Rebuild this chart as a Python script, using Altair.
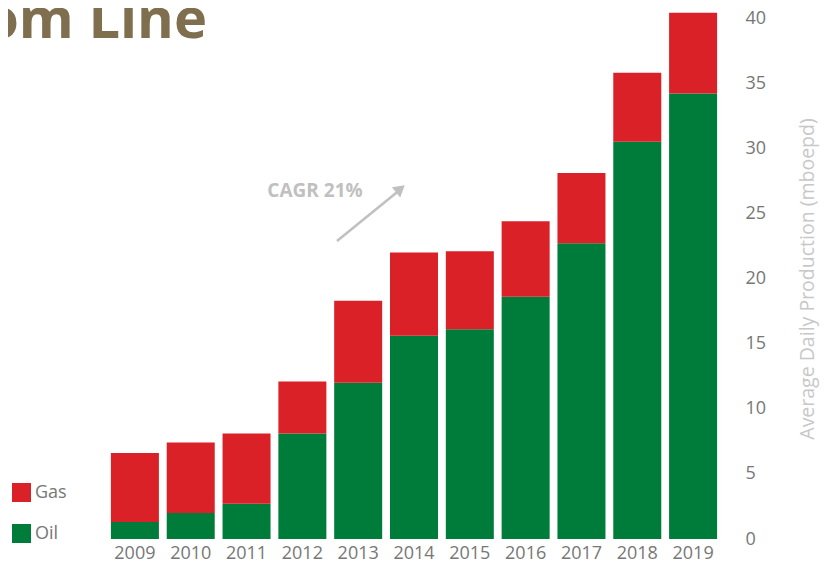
import altair as alt
import pandas as pd

years = ["2009", "2010", "2011", "2012", "2013", "2014", "2015", "2016", "2017", "2018", "2019"]
oil = [1.3, 2.0, 2.7, 8.1, 12.0, 15.6, 16.1, 18.6, 22.7, 30.5, 34.2]
total = [6.6, 7.4, 8.1, 12.1, 18.3, 22.0, 22.1, 24.4, 28.1, 35.8, 40.4]
gas = [round(t - o, 2) for t, o in zip(total, oil)]

series = ["Gas", "Oil"]
colors = ["#da2128", "#007c3a"]

rows = []
for y, o, g in zip(years, oil, gas):
    rows.append({"year": y, "type": "Oil", "value": o, "ord": 0})
    rows.append({"year": y, "type": "Gas", "value": g, "ord": 1})
df = pd.DataFrame(rows)

FONT = "Open Sans"

bars = alt.Chart(df).mark_bar().encode(
    x=alt.X("year:N", sort=years,
            scale=alt.Scale(paddingInner=0.14, paddingOuter=0.07),
            axis=alt.Axis(title=None, labelAngle=0, ticks=False, domain=False,
                          labelColor="#777777", labelFontSize=18, labelFont=FONT,
                          labelPadding=5)),
    y=alt.Y("value:Q", stack="zero",
            scale=alt.Scale(domain=[0, 40], nice=False),
            axis=alt.Axis(orient="right", title="Average Daily Production (mboepd)",
                          values=[0, 5, 10, 15, 20, 25, 30, 35, 40],
                          grid=False, ticks=False, domain=False,
                          labelColor="#777777", labelFontSize=18, labelFont=FONT,
                          labelPadding=24, labelAlign="left",
                          titleColor="#c8c8c8", titleFontSize=19.5, titleFont=FONT,
                          titleFontWeight="normal", titleAngle=270, titlePadding=52)),
    color=alt.Color("type:N", scale=alt.Scale(domain=series, range=colors),
                    legend=alt.Legend(title=None, orient="none", legendX=-95, legendY=465,
                                      symbolType="square", symbolSize=361,
                                      symbolStrokeWidth=0, labelFontSize=18,
                                      labelColor="#777777", labelFont=FONT,
                                      labelOffset=4, rowPadding=22)),
    order=alt.Order("ord:Q"),
)

title_df = pd.DataFrame({"t": ["om Line"]})
title = alt.Chart(title_df).mark_text(
    align="right", baseline="alphabetic", font=FONT, fontSize=56,
    fontWeight="bold", color="#7f6f4f"
).encode(text="t:N", x=alt.value(100), y=alt.value(20))

cagr_df = pd.DataFrame({"t": ["CAGR 21%"]})
cagr = alt.Chart(cagr_df).mark_text(
    align="center", baseline="middle", font=FONT, fontSize=19,
    fontWeight="bold", color="#c0c0c0"
).encode(text="t:N", x=alt.value(208), y=alt.value(173))

arrow_line = alt.Chart(cagr_df).mark_rule(color="#c0c0c0", strokeWidth=2.5).encode(
    x=alt.value(230), y=alt.value(223), x2=alt.value(294), y2=alt.value(171)
)
arrow_head = alt.Chart(cagr_df).mark_point(
    shape="triangle-up", filled=True, color="#c0c0c0", size=170, angle=50.5, opacity=1
).encode(x=alt.value(293.4), y=alt.value(170.8))

chart = alt.layer(bars, arrow_line, arrow_head, cagr, title).properties(
    width=614, height=521,
    padding={"left": 99, "top": 10, "right": 104, "bottom": 25},
    autosize=alt.AutoSizeParams(type="none"),
).configure_view(stroke=None)

chart.save("out.html", embed_options={"renderer": "svg", "actions": False})
